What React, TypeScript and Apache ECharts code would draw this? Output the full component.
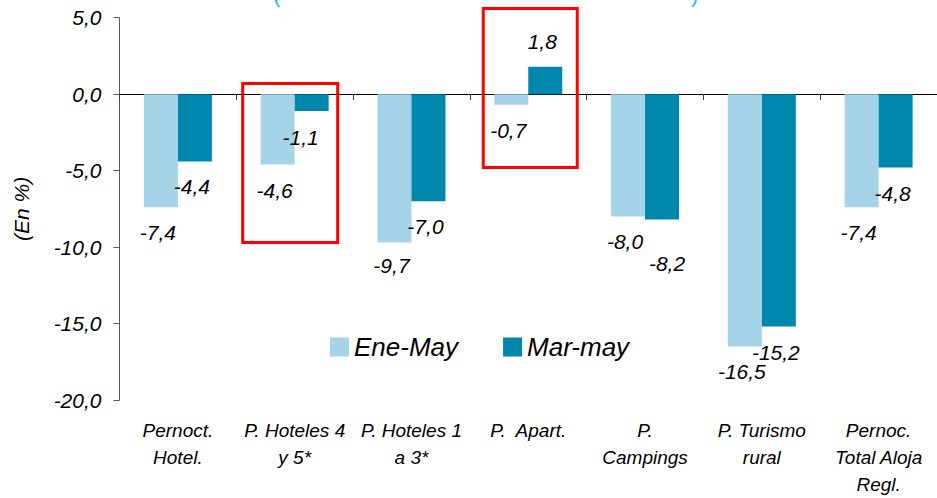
import React, { useEffect, useRef } from "react";
import * as echarts from "echarts";

const categories = [
  "Pernoct.\nHotel.",
  "P. Hoteles 4\ny 5*",
  "P. Hoteles 1\na 3*",
  "P.  Apart.",
  "P.\nCampings",
  "P. Turismo\nrural",
  "Pernoc.\nTotal Aloja\nRegl.",
];
const seriesNames = ["Ene-May", "Mar-may"];
const eneMay = [-7.4, -4.6, -9.7, -0.7, -8.0, -16.5, -7.4];
const marMay = [-4.4, -1.1, -7.0, 1.8, -8.2, -15.2, -4.8];
const yMin = -20;
const yMax = 5;
const yInterval = 5;

// label nudges (px) relative to default outside placement
const eneOffsets = [[-3, 0], [-3, 0], [-3, -2], [-3, 0], [-3, 0], [-3, 0], [-3, 0]];
const marOffsets = [[-3, 0], [-11, 1], [-3, 0], [-3, 0], [5, 18], [-3, 0], [-3, 0]];

// highlighted categories: [categoryIndex, topValue, bottomValue, leftPx, rightPx]
const highlights = [
  [1, 0.7, -9.7, -52, 43],
  [3, 5.6, -4.8, -45, 49],
];

const FONT = "Liberation Sans, Arial, sans-serif";
const fmt = (v: number) => v.toFixed(1).replace(".", ",");

export default function App() {
  const ref = useRef<HTMLDivElement>(null);
  useEffect(() => {
    if (!ref.current) return;
    const chart = echarts.init(ref.current, undefined, { renderer: "svg" });
    const mk = (vals: number[], offs: number[][]) =>
      vals.map((v, i) => ({
        value: v,
        label: { offset: offs[i] },
      }));
    const labelBase = {
      show: true,
      position: "outside",
      distance: 15,
      fontFamily: FONT,
      fontStyle: "italic",
      fontSize: 21,
      color: "#000",
      formatter: (p: any) => fmt(p.value),
    };
    chart.setOption({
      animation: false,
      backgroundColor: "#fff",
      grid: { left: 119.5, top: 17.7, width: 824, bottom: 93.8 },
      legend: {
        left: 325,
        top: 329,
        itemWidth: 19,
        itemHeight: 19,
        itemGap: 45,
        icon: "rect",
        textStyle: { fontFamily: FONT, fontStyle: "italic", fontSize: 26, color: "#000" },
        data: seriesNames,
      },
      xAxis: [
        {
          type: "category",
          data: categories,
          position: "bottom",
          axisLine: { onZero: true, lineStyle: { color: "#000", width: 1 } },
          axisTick: { show: true, length: 6, lineStyle: { color: "#404040" } },
          axisLabel: { show: false },
        },
        {
          type: "category",
          data: categories,
          position: "bottom",
          axisLine: { show: false, onZero: false },
          axisTick: { show: false },
          axisLabel: {
            show: true,
            margin: 17,
            interval: 0,
            fontFamily: FONT,
            fontStyle: "italic",
            fontSize: 19,
            lineHeight: 27,
            color: "#000",
          },
        },
      ],
      yAxis: {
        type: "value",
        min: yMin,
        max: yMax,
        interval: yInterval,
        name: "(En %)",
        nameLocation: "middle",
        nameGap: 88,
        nameTextStyle: { fontFamily: FONT, fontStyle: "italic", fontSize: 21, color: "#000" },
        axisLine: { show: true, lineStyle: { color: "#595959" } },
        axisTick: { show: true, length: 6, lineStyle: { color: "#595959" } },
        splitLine: { show: false },
        axisLabel: {
          margin: 18,
          fontFamily: FONT,
          fontStyle: "italic",
          fontSize: 21,
          color: "#000",
          formatter: (v: number) => fmt(v),
        },
      },
      series: [
        {
          name: seriesNames[0],
          type: "bar",
          barWidth: 34,
          barGap: "0%",
          itemStyle: { color: "#A5D4E8" },
          label: labelBase,
          data: mk(eneMay, eneOffsets),
        },
        {
          name: seriesNames[1],
          type: "bar",
          barWidth: 34,
          barGap: "0%",
          itemStyle: { color: "#0087AD" },
          label: labelBase,
          data: mk(marMay, marOffsets),
        },
      ],
    });
    const boxes = highlights.map(([ci, top, bot, l, r]) => {
      const p1 = chart.convertToPixel({ xAxisIndex: 0, yAxisIndex: 0 }, [ci, top]) as number[];
      const p2 = chart.convertToPixel({ xAxisIndex: 0, yAxisIndex: 0 }, [ci, bot]) as number[];
      return {
        type: "rect",
        shape: { x: p1[0] + l, y: p1[1], width: r - l, height: p2[1] - p1[1] },
        style: { fill: "none", stroke: "#FF0000", lineWidth: 3 },
        z: 10,
      };
    });
    chart.setOption({
      graphic: [
        ...boxes,
        {
          type: "text",
          left: 273,
          top: -17,
          style: { text: "(", fontSize: 22, fill: "#29B5E8", fontFamily: FONT },
        },
        {
          type: "text",
          left: 691,
          top: -17,
          style: { text: ")", fontSize: 22, fill: "#29B5E8", fontFamily: FONT },
        },
      ],
    });
    return () => chart.dispose();
  }, []);
  return <div ref={ref} style={{ width: 937, height: 498, position: "absolute", left: 0, top: 0 }} />;
}
